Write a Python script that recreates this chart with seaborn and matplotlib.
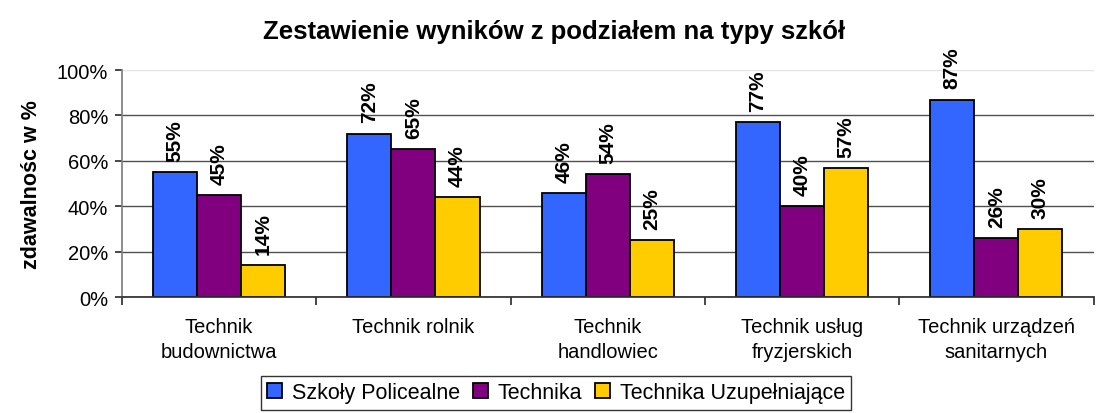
import pandas as pd
import numpy as np
import matplotlib
matplotlib.use("Agg")
import matplotlib.pyplot as plt
import seaborn as sns
from matplotlib.ticker import PercentFormatter

# data
categories = ["Technik\nbudownictwa", "Technik rolnik", "Technik\nhandlowiec",
              "Technik usług\nfryzjerskich", "Technik urządzeń\nsanitarnych"]
series = ["Szkoły Policealne", "Technika", "Technika Uzupełniające"]
policealne = [0.55, 0.72, 0.46, 0.77, 0.87]
technika = [0.45, 0.65, 0.54, 0.40, 0.26]
uzupelniajace = [0.14, 0.44, 0.25, 0.57, 0.30]
colors = ["#3366FF", "#800080", "#FFCC00"]

df = pd.DataFrame({
    "typ": np.repeat(categories, 3),
    "seria": series * len(categories),
    "wynik": [v for trio in zip(policealne, technika, uzupelniajace) for v in trio],
})

sns.set_theme(style="white")
plt.rcParams["font.family"] = ["Liberation Sans", "DejaVu Sans"]
plt.rcParams["text.color"] = "black"
plt.rcParams["xtick.color"] = "black"
plt.rcParams["ytick.color"] = "black"
plt.rcParams["axes.labelcolor"] = "black"

fig = plt.figure(figsize=(10.99, 4.14), dpi=100)
ax = fig.add_axes([0.111, 0.280, 0.884, 0.5485])

sns.barplot(data=df, x="typ", y="wynik", hue="seria", palette=colors,
            order=categories, hue_order=series, width=0.68, saturation=1,
            edgecolor="black", linewidth=1.3, ax=ax, legend=True)

for cont in ax.containers:
    ax.bar_label(cont, labels=[f"{v:.0%}" for v in cont.datavalues],
                 rotation=90, padding=8, fontsize=15, fontweight="bold")

ax.set_ylim(0, 1.0)
ax.set_yticks(np.arange(0, 1.01, 0.2))
ax.yaxis.set_major_formatter(PercentFormatter(1.0, decimals=0))
ax.yaxis.grid(True, color="#505050", linewidth=1)
ax.get_ygridlines()[-1].set_color("#e4e4e4")
ax.set_axisbelow(True)
ax.set_xlim(-0.5, len(categories) - 0.5)

# tick marks between categories, labels centred
ax.set_xticks(np.arange(-0.5, len(categories), 1.0))
ax.set_xticklabels([])
ax.set_xticks(np.arange(len(categories)), minor=True)
ax.set_xticklabels(categories, minor=True, fontsize=14.5, linespacing=1.45)
ax.tick_params(axis="x", which="major", length=6, color="#303030", direction="out", bottom=True)
ax.tick_params(axis="x", which="minor", length=0, pad=14)
ax.tick_params(axis="y", length=5, color="#303030", direction="out", left=True,
               labelsize=14.5, pad=5)

for side in ["top", "right"]:
    ax.spines[side].set_visible(False)
ax.spines["left"].set_color("#808080")
ax.spines["bottom"].set_color("#303030")

ax.set_xlabel("")
ax.set_ylabel("zdawalnośc w %", fontsize=15.5, fontweight="bold")
ax.yaxis.set_label_coords(-0.082, 0.5)
fig.text(0.5045, 0.923, "Zestawienie wyników z podziałem na typy szkół", fontsize=18.5,
         fontweight="bold", ha="center", va="center")

ax.legend_.remove()
leg = fig.legend(handles=ax.containers, labels=series, loc="lower center",
                 bbox_to_anchor=(0.506, 0.008), ncol=3, frameon=True, fancybox=False,
                 edgecolor="black", fontsize=15.5, handlelength=0.7, handleheight=0.7,
                 handletextpad=0.45, columnspacing=0.6, borderpad=0.3, borderaxespad=0)
leg.get_frame().set_linewidth(1)

fig.savefig("out.png", dpi=100)
